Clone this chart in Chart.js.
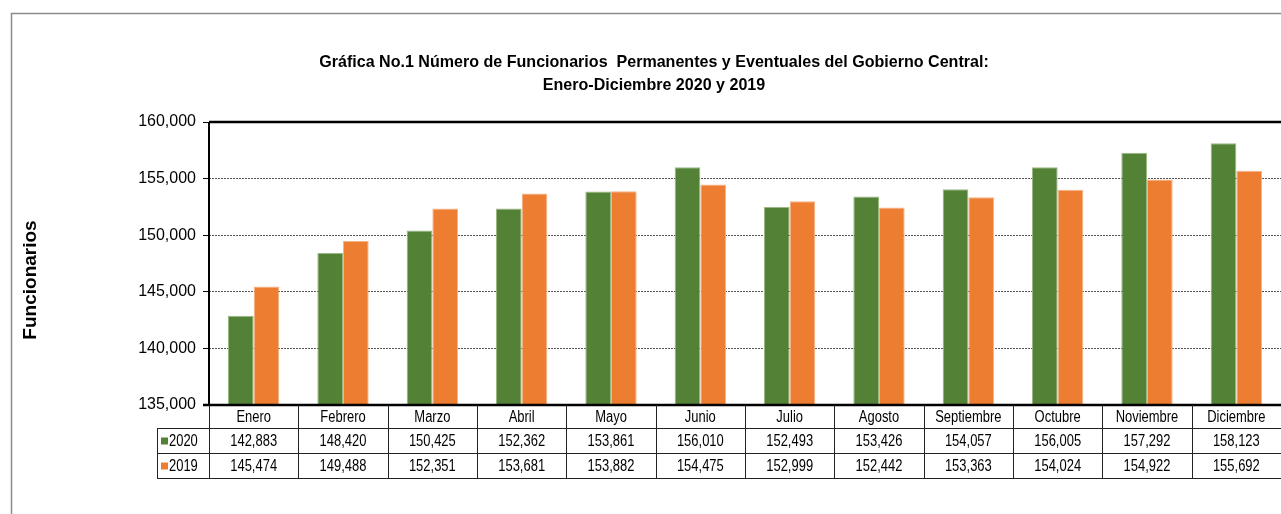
<!DOCTYPE html>
<html>
<head>
<meta charset="utf-8">
<script src="https://cdn.jsdelivr.net/npm/chart.js@4"></script>
<style>
  body { margin: 0; background: #fff; }
  canvas { display: block; }
</style>
</head>
<body>
<canvas id="chart" width="1281" height="514"></canvas>
<script>
// Chart data
const months = ['Enero', 'Febrero', 'Marzo', 'Abril', 'Mayo', 'Junio', 'Julio', 'Agosto', 'Septiembre', 'Octubre', 'Noviembre', 'Diciembre'];
const values2020 = [142883, 148420, 150425, 152362, 153861, 156010, 152493, 153426, 154057, 156005, 157292, 158123];
const values2019 = [145474, 149488, 152351, 153681, 153882, 154475, 152999, 152442, 153363, 154024, 154922, 155692];
const seriesNames = ['2020', '2019'];
const titleLines = ['Gráfica No.1 Número de Funcionarios  Permanentes y Eventuales del Gobierno Central:', 'Enero-Diciembre 2020 y 2019'];
const yTitle = 'Funcionarios';

const green = '#538135';
const orange = '#ed7d31';
const FONT = '"Liberation Sans", Arial, sans-serif';

const fmt = v => v.toLocaleString('en-US');

// the original uses a narrow looking font, so squeeze text horizontally
function narrowText(ctx, text, x, y, sx) {
    ctx.save();
    ctx.translate(x, y);
    ctx.scale(sx, 1);
    ctx.fillText(text, 0, 0);
    ctx.restore();
}

// Frame, title, axis title and data table are drawn here
const tablePlugin = {
    id: 'tablePlugin',
    beforeDraw(chart) {
        const ctx = chart.ctx;
        ctx.save();
        ctx.fillStyle = '#fff';
        ctx.fillRect(0, 0, chart.width, chart.height);
        // outer frame
        ctx.strokeStyle = '#8c8c8c';
        ctx.lineWidth = 1.5;
        ctx.beginPath();
        ctx.moveTo(11.5, chart.height);
        ctx.lineTo(11.5, 13.5);
        ctx.lineTo(chart.width, 13.5);
        ctx.stroke();
        ctx.restore();
    },
    afterDraw(chart) {
        const ctx = chart.ctx;
        const area = chart.chartArea;
        const xs = chart.scales.x;
        const step = (area.right - area.left) / months.length;

        ctx.save();
        // title
        ctx.fillStyle = '#000';
        ctx.font = 'bold 17px ' + FONT;
        ctx.textAlign = 'center';
        ctx.textBaseline = 'middle';
        narrowText(ctx, titleLines[0], 654, 62, 0.945);
        narrowText(ctx, titleLines[1], 654, 85, 0.945);

        // y axis title
        ctx.save();
        ctx.translate(31, 280);
        ctx.rotate(-Math.PI / 2);
        ctx.font = 'bold 19px ' + FONT;
        ctx.fillText(yTitle, 0, 0);
        ctx.restore();

        // plot top border and left axis
        ctx.strokeStyle = '#000';
        ctx.lineWidth = 2.5;
        ctx.beginPath();
        ctx.moveTo(area.left, area.top);
        ctx.lineTo(area.right, area.top);
        ctx.stroke();
        ctx.lineWidth = 2;
        ctx.beginPath();
        ctx.moveTo(area.left, area.top);
        ctx.lineTo(area.left, area.bottom);
        ctx.stroke();

        // table
        const rowH = 25;
        const y0 = area.bottom;
        const y1 = y0 + 23;
        const y2 = y1 + rowH;
        const y3 = y2 + rowH;
        const legendLeft = 157;

        ctx.lineWidth = 2.5;
        ctx.beginPath();
        ctx.moveTo(area.left - 6, y0);
        ctx.lineTo(area.right, y0);
        ctx.stroke();

        ctx.lineWidth = 1;
        ctx.strokeStyle = '#222';
        ctx.beginPath();
        [y1, y2, y3].forEach(y => {
            ctx.moveTo(legendLeft, y + 0.5);
            ctx.lineTo(area.right, y + 0.5);
        });
        ctx.moveTo(legendLeft + 0.5, y1);
        ctx.lineTo(legendLeft + 0.5, y3);
        for (let i = 0; i <= months.length; i++) {
            const x = Math.round(xs.getPixelForValue(i) - step / 2) + 0.5;
            ctx.moveTo(x, y0);
            ctx.lineTo(x, y3);
        }
        ctx.stroke();

        ctx.font = '16px ' + FONT;
        ctx.fillStyle = '#000';
        ctx.textAlign = 'center';
        const sx = 0.81;
        months.forEach((m, i) => {
            const x = xs.getPixelForValue(i);
            narrowText(ctx, m, x, (y0 + y1) / 2 + 1, sx);
            narrowText(ctx, fmt(values2020[i]), x, (y1 + y2) / 2 + 1, sx);
            narrowText(ctx, fmt(values2019[i]), x, (y2 + y3) / 2 + 1, sx);
        });

        // legend keys
        ctx.textAlign = 'left';
        [[green, y1], [orange, y2]].forEach(([c, y], k) => {
            ctx.fillStyle = c;
            ctx.fillRect(legendLeft + 4, y + rowH / 2 - 3, 7, 7);
            ctx.fillStyle = '#000';
            narrowText(ctx, seriesNames[k], legendLeft + 12, y + rowH / 2 + 1, sx);
        });
        ctx.restore();
    }
};

new Chart(document.getElementById('chart'), {
    type: 'bar',
    data: {
        labels: months,
        datasets: [
            {
                label: seriesNames[0],
                data: values2020,
                backgroundColor: green,
                borderColor: '#9cb985',
                borderWidth: 1
            },
            {
                label: seriesNames[1],
                data: values2019,
                backgroundColor: orange,
                borderColor: '#f4b48a',
                borderWidth: 1
            }
        ]
    },
    options: {
        responsive: false,
        animation: false,
        devicePixelRatio: 1,
        layout: { padding: { top: 122, left: 0, right: 0, bottom: 109 } },
        datasets: {
            bar: { categoryPercentage: 0.575, barPercentage: 1.0 }
        },
        plugins: {
            legend: { display: false },
            title: { display: false },
            tooltip: { enabled: false }
        },
        scales: {
            x: {
                display: false
            },
            y: {
                min: 135000,
                max: 160000,
                afterFit: s => { s.width = 209; },
                ticks: {
                    stepSize: 5000,
                    padding: 7,
                    color: '#000',
                    font: { family: FONT, size: 16 },
                    callback: v => fmt(v)
                },
                border: { display: false, dash: [2, 1] },
                grid: {
                    color: c => (c.tick && (c.tick.value === 160000 || c.tick.value === 135000)) ? 'rgba(0,0,0,0)' : '#555',
                    tickColor: '#000',
                    tickLength: 6,
                    tickBorderDash: []
                }
            }
        }
    },
    plugins: [tablePlugin]
});
</script>
</body>
</html>
